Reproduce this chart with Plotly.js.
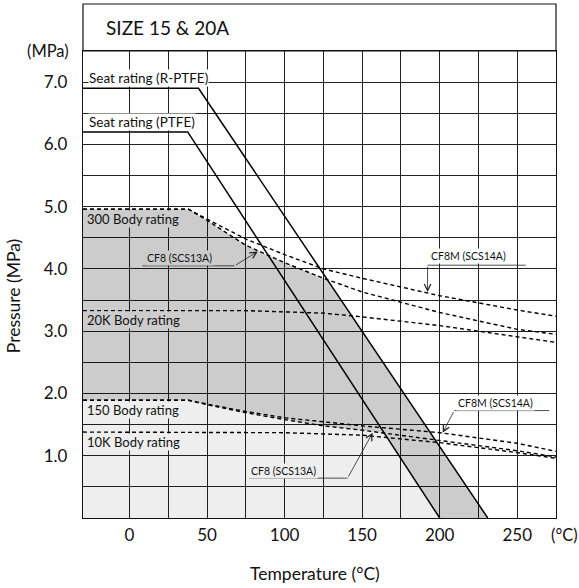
<!DOCTYPE html>
<html>
<head>
<meta charset="utf-8">
<script src="https://cdn.plot.ly/plotly-3.0.1.min.js"></script>
<style>
  html, body { margin: 0; padding: 0; background: #fff; }
  #chart { width: 579px; height: 588px; }
</style>
</head>
<body>
<div id="chart"></div>
<script>
// ---------------- data ----------------
// Body ratings, Class 300 (CF8M upper, CF8 lower)
var T300      = [-30, 38, 50, 75, 100, 125, 150, 200, 250, 275];
var cf8m300   = [4.96, 4.96, 4.80, 4.48, 4.23, 4.00, 3.85, 3.57, 3.34, 3.24];
var cf8_300   = [4.96, 4.96, 4.78, 4.38, 4.10, 3.85, 3.63, 3.30, 3.03, 2.95];
// JIS 20K body rating
var T20K      = [-30, 75, 100, 125, 150, 200, 250, 275];
var k20       = [3.33, 3.33, 3.31, 3.29, 3.23, 3.09, 2.91, 2.82];
// Body ratings, Class 150
var T150      = [-30, 38, 50, 75, 100, 125, 150, 200, 250, 275];
var cf8m150   = [1.89, 1.89, 1.83, 1.71, 1.61, 1.54, 1.48, 1.37, 1.20, 1.07];
var cf8_150   = [1.89, 1.89, 1.82, 1.69, 1.58, 1.48, 1.41, 1.25, 1.08, 0.98];
// JIS 10K body rating
var T10K      = [-30, 100, 150, 200, 250, 275];
var k10       = [1.38, 1.37, 1.33, 1.21, 1.05, 0.96];
// Seat ratings
var seatRT    = [-30, 44.5, 231];
var seatRP    = [6.9, 6.9, 0];
var seatPT    = [-30, 37.5, 200];
var seatPP    = [6.2, 6.2, 0];
// ticks
var xTickVals = [0, 25, 50, 75, 100, 125, 150, 175, 200, 225, 250];
var xTickText = ['0', '', '50', '', '100', '', '150', '', '200', '', '250'];
var yTickVals = [0.5, 1, 1.5, 2, 2.5, 3, 3.5, 4, 4.5, 5, 5.5, 6, 6.5, 7];
var yTickText = ['', '1.0', '', '2.0', '', '3.0', '', '4.0', '', '5.0', '', '6.0', '', '7.0'];

// ---------------- helpers ----------------
function interp(xs, ys, x) {
  for (var i = 0; i < xs.length - 1; i++) {
    if (x >= xs[i] && x <= xs[i + 1]) {
      var t = (x - xs[i]) / (xs[i + 1] - xs[i]);
      return ys[i] + t * (ys[i + 1] - ys[i]);
    }
  }
  return null;
}
// pointwise minimum of two piecewise-linear curves on their common domain
function minCurve(xa, ya, xb, yb) {
  var lo = Math.max(xa[0], xb[0]);
  var hi = Math.min(xa[xa.length - 1], xb[xb.length - 1]);
  var pts = xa.concat(xb).filter(function (v) { return v >= lo && v <= hi; });
  pts.sort(function (a, b) { return a - b; });
  var xs = [];
  pts.forEach(function (v) { if (!xs.length || Math.abs(xs[xs.length - 1] - v) > 1e-9) xs.push(v); });
  var ox = [], oy = [];
  for (var i = 0; i < xs.length; i++) {
    var a = interp(xa, ya, xs[i]), b = interp(xb, yb, xs[i]);
    ox.push(xs[i]); oy.push(Math.min(a, b));
    if (i < xs.length - 1) {
      var a2 = interp(xa, ya, xs[i + 1]), b2 = interp(xb, yb, xs[i + 1]);
      var d1 = a - b, d2 = a2 - b2;
      if (d1 * d2 < 0) {
        var t = d1 / (d1 - d2);
        var xc = xs[i] + t * (xs[i + 1] - xs[i]);
        ox.push(xc); oy.push(interp(xa, ya, xc));
      }
    }
  }
  return { x: ox, y: oy };
}

var lightB = minCurve(T150, cf8_150, seatPT, seatPP);
var darkB  = minCurve(T300, cf8_300, seatRT, seatRP);

var FONT = 'Lato, "Open Sans", sans-serif';
var DARK = 'rgba(0,0,0,0.20)';
var LIGHT = 'rgba(0,0,0,0.065)';
var DARK_OP = 'rgb(204,204,204)';
var LIGHT_OP = 'rgb(238,238,238)';

function dashed(x, y) {
  return { x: x, y: y, mode: 'lines', line: { color: '#000', width: 1.4, dash: '4px,3px' }, hoverinfo: 'skip' };
}
function solid(x, y) {
  return { x: x, y: y, mode: 'lines', line: { color: '#000', width: 1.5 }, hoverinfo: 'skip' };
}

var traces = [
  { x: lightB.x, y: lightB.y, mode: 'lines', line: { width: 0 }, fill: 'tozeroy', fillcolor: LIGHT, hoverinfo: 'skip' },
  { x: darkB.x, y: darkB.y, mode: 'lines', line: { width: 0 }, fill: 'tonexty', fillcolor: DARK, hoverinfo: 'skip' },
  dashed(T300, cf8m300),
  dashed(T300, cf8_300),
  dashed(T20K, k20),
  dashed(T150, cf8m150),
  dashed(T150, cf8_150),
  dashed(T10K, k10),
  solid(seatRT, seatRP),
  solid(seatPT, seatPP)
];

function label(text, x, y, bg, size, ya, pad) {
  return { text: text, x: x, y: y, xref: 'x', yref: 'y', xanchor: 'left', yanchor: ya || 'middle',
           showarrow: false, bgcolor: bg, borderpad: (pad === undefined ? 1 : pad),
           font: { family: FONT, size: size, color: '#111' } };
}
function arrow(tipX, tipY, tailX, tailY) {
  return { text: '', x: tipX, y: tipY, ax: tailX, ay: tailY, xref: 'x', yref: 'y', axref: 'x', ayref: 'y',
           showarrow: true, arrowhead: 5, arrowsize: 1.6, arrowwidth: 0.8, arrowcolor: '#222', standoff: 0 };
}
function lead(x0, x1, y) {
  return { type: 'line', xref: 'x', yref: 'y', x0: x0, x1: x1, y0: y, y1: y, line: { color: '#222', width: 0.8 } };
}

var annotations = [
  label('Seat rating (R-PTFE)', -26.5, 6.918, '#fff', 13.5, 'bottom', 0),
  label('Seat rating (PTFE)', -26.5, 6.218, '#fff', 13.5, 'bottom', 0),
  label('300 Body rating', -28, 4.95, DARK_OP, 13, 'top', 0),
  label('20K Body rating', -28, 3.33, DARK_OP, 13, 'top', 0),
  label('150 Body rating', -28, 1.875, LIGHT_OP, 13, 'top', 0),
  label('10K Body rating', -28, 1.37, LIGHT_OP, 13, 'top', 0),
  label('CF8 (SCS13A)', 9.7, 4.17, DARK_OP, 10.5),
  label('CF8M (SCS14A)', 193.3, 4.2, '#fff', 10.5),
  label('CF8M (SCS14A)', 210.7, 1.84, '#fff', 10.5),
  label('CF8 (SCS13A)', 77.3, 0.76, LIGHT_OP, 10.5),
  arrow(82.7, 4.28, 67.7, 4.05),
  arrow(192.2, 3.63, 192.2, 4.06),
  arrow(201.9, 1.37, 209.4, 1.725),
  arrow(156.8, 1.37, 140.6, 0.64),
  { text: 'SIZE 15 &amp; 20A', x: 0.044, y: 1.05, xref: 'paper', yref: 'paper', xanchor: 'left', yanchor: 'middle',
    showarrow: false, font: { family: FONT, size: 19, color: '#111' } },
  { text: '(MPa)', x: -0.074, y: 1.0, xref: 'paper', yref: 'paper', xanchor: 'center', yanchor: 'middle',
    showarrow: false, font: { family: FONT, size: 16.5, color: '#111' } },
  { text: '(°C)', x: 1.017, y: -0.036, xref: 'paper', yref: 'paper', xanchor: 'center', yanchor: 'middle',
    showarrow: false, font: { family: FONT, size: 16.5, color: '#111' } },
  { text: 'Temperature (°C)', x: 0.49, y: -0.118, xref: 'paper', yref: 'paper', xanchor: 'center', yanchor: 'middle',
    showarrow: false, font: { family: FONT, size: 17.5, color: '#111' } },
  { text: 'Pressure (MPa)', x: -0.148, y: 0.475, xref: 'paper', yref: 'paper', xanchor: 'center', yanchor: 'middle',
    textangle: -90, showarrow: false, font: { family: FONT, size: 17.5, color: '#111' } }
];

var shapes = [
  lead(8.4, 67.7, 4.05),
  lead(192.2, 255.5, 4.06),
  lead(209.4, 270.6, 1.725),
  lead(77.3, 140.6, 0.64),
  // title band frame
  { type: 'rect', xref: 'paper', yref: 'paper', x0: 0, x1: 1, y0: 1, y1: 1.1006, line: { color: '#111', width: 1.2 } }
];

var layout = {
  width: 579, height: 588,
  margin: { l: 83, r: 23, t: 51, b: 70 },
  paper_bgcolor: '#fff', plot_bgcolor: '#fff',
  showlegend: false, hovermode: false,
  font: { family: FONT, color: '#111' },
  xaxis: {
    range: [-30, 275], tickmode: 'array', tickvals: xTickVals, ticktext: xTickText,
    showgrid: true, gridcolor: '#222', gridwidth: 1, zeroline: false,
    showline: true, linecolor: '#111', linewidth: 1.2, mirror: true,
    ticks: '', ticklabelstandoff: 1, tickfont: { family: FONT, size: 17, color: '#111' }
  },
  yaxis: {
    range: [0, 7.5], tickmode: 'array', tickvals: yTickVals, ticktext: yTickText,
    showgrid: true, gridcolor: '#222', gridwidth: 1, zeroline: false,
    showline: true, linecolor: '#111', linewidth: 1.2, mirror: true,
    ticks: '', ticklabelstandoff: 11, tickfont: { family: FONT, size: 17, color: '#111' }
  },
  annotations: annotations,
  shapes: shapes
};

Plotly.newPlot('chart', traces, layout, { staticPlot: true, displayModeBar: false });
</script>
</body>
</html>
